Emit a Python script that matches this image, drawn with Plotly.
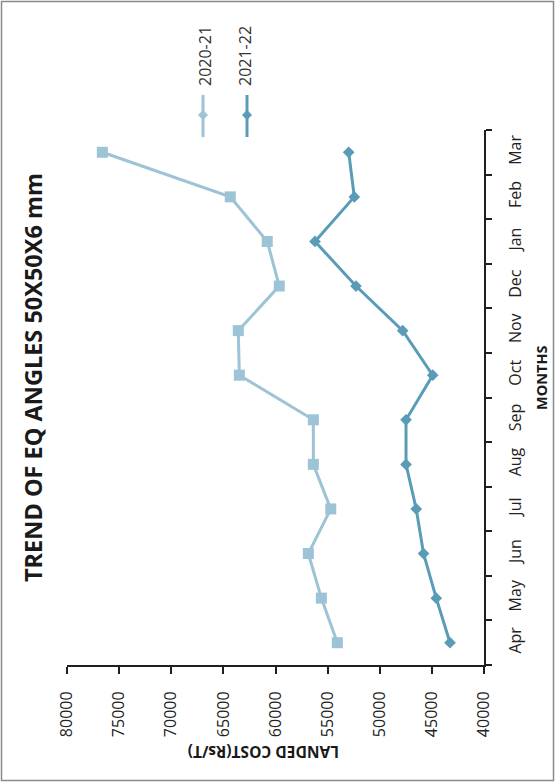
import plotly.graph_objects as go

# ---------------- data ----------------
months = ["Apr", "May", "Jun", "Jul", "Aug", "Sep", "Oct", "Nov", "Dec", "Jan", "Feb", "Mar"]
cost_2020_21 = [54070, 55600, 56850, 54700, 56370, 56370, 63470, 63570, 59640, 60790, 64340, 76610]
cost_2021_22 = [43260, 44580, 45800, 46500, 47480, 47480, 44920, 47800, 52280, 56210, 52440, 52980]
value_ticks = [80000, 75000, 70000, 65000, 60000, 55000, 50000, 45000, 40000]
series_names = ["2020-21", "2021-22"]

# ---------------- styling / layout ----------------
W, H = 559, 782
L, R, T, B = 67, 75, 130, 117
PW, PH = W - L - R, H - T - B
LIGHT = "#9CC3D6"
DARK = "#5A9CB8"
FONT = "Open Sans"


def px(x):
    return (x - L) / PW


def py(y):
    return (H - B - y) / PH


fig = go.Figure()
fig.add_trace(go.Scatter(
    x=cost_2020_21, y=months, name=series_names[0], mode="lines+markers",
    line=dict(color=LIGHT, width=3),
    marker=dict(symbol="square", size=11, color=LIGHT),
))
fig.add_trace(go.Scatter(
    x=cost_2021_22, y=months, name=series_names[1], mode="lines+markers",
    line=dict(color=DARK, width=3),
    marker=dict(symbol="diamond", size=9, color=DARK),
))

fig.update_layout(
    width=W, height=H,
    margin=dict(l=L, r=R, t=T, b=B, pad=0),
    paper_bgcolor="white", plot_bgcolor="white",
    showlegend=False,
    font=dict(family=FONT, color="#222222", size=16),
)

fig.update_xaxes(
    range=[value_ticks[0], value_ticks[-1]],
    tickvals=value_ticks, ticktext=[str(v) for v in value_ticks],
    tickangle=-90,
    showgrid=False, zeroline=False,
    showline=True, linecolor="#1f1f1f", linewidth=2,
    ticks="outside", ticklen=7, tickwidth=1.5, tickcolor="#1f1f1f",
    tickfont=dict(family=FONT, size=16, color="#222222"),
    ticklabelstandoff=11,
)
fig.update_yaxes(
    type="category", categoryorder="array", categoryarray=months,
    range=[-0.5, len(months) - 0.5],
    side="right",
    tickangle=-90,
    showgrid=False, zeroline=False,
    showline=True, linecolor="#1f1f1f", linewidth=2,
    ticks="outside", tickson="boundaries", ticklen=6, tickwidth=1.5, tickcolor="#1f1f1f",
    tickfont=dict(family=FONT, size=16, color="#222222"),
    ticklabelstandoff=16,
)

annotations = [
    dict(text="<b>TREND OF EQ ANGLES 50X50X6 mm</b>", x=px(33), y=py(378),
         textangle=-90, font=dict(family=FONT, size=23.5, color="#1a1a1a")),
    dict(text="<b>MONTHS</b>", x=px(541), y=py(378),
         textangle=-90, font=dict(family=FONT, size=14.5, color="#1a1a1a")),
    dict(text="<b>LANDED COST(Rs/T)</b>", x=px(264), y=py(752),
         textangle=180, font=dict(family=FONT, size=15.5, color="#1a1a1a")),
    dict(text=series_names[0], x=px(205), y=py(56),
         textangle=-90, font=dict(family=FONT, size=16, color="#333333")),
    dict(text=series_names[1], x=px(245), y=py(56),
         textangle=-90, font=dict(family=FONT, size=16, color="#333333")),
]
for a in annotations:
    a.update(xref="paper", yref="paper", showarrow=False, xanchor="center", yanchor="middle")
fig.update_layout(annotations=annotations)

shapes = []
# outer frame
shapes.append(dict(type="rect", xref="paper", yref="paper",
                   x0=px(1.5), x1=px(553.5), y0=py(1.5), y1=py(780.5),
                   line=dict(color="#8a8a8a", width=1.5), fillcolor="rgba(0,0,0,0)", layer="below"))
# legend samples
for cx, col in [(203, LIGHT), (247, DARK)]:
    shapes.append(dict(type="line", xref="paper", yref="paper",
                       x0=px(cx), x1=px(cx), y0=py(95), y1=py(137),
                       line=dict(color=col, width=3)))
    d = 4.5
    path = (f"M {px(cx)} {py(115 - d)} L {px(cx + d)} {py(115)} "
            f"L {px(cx)} {py(115 + d)} L {px(cx - d)} {py(115)} Z")
    shapes.append(dict(type="path", xref="paper", yref="paper", path=path,
                       fillcolor=col, line=dict(color=col, width=1)))
fig.update_layout(shapes=shapes)

fig.write_html("out.html", config={"displayModeBar": False},
               post_script="document.body.style.margin='0px';document.body.style.overflow='hidden';")
